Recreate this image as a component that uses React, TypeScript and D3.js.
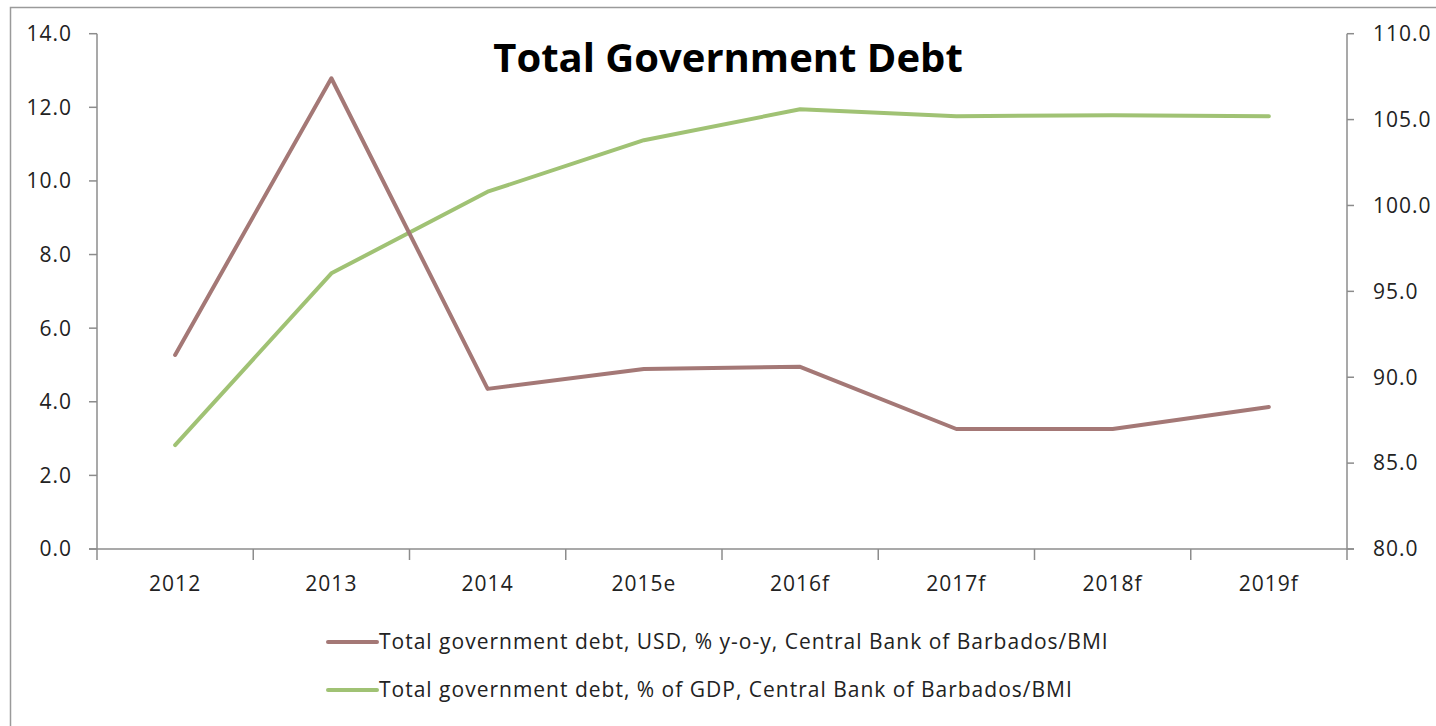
import React from "react";
import * as d3 from "d3";

const categories = ["2012", "2013", "2014", "2015e", "2016f", "2017f", "2018f", "2019f"];
const debtYoY = [5.27, 12.79, 4.35, 4.89, 4.95, 3.26, 3.26, 3.86];
const debtGDP = [86.05, 96.05, 100.8, 103.8, 105.6, 105.2, 105.25, 105.2];
const leftTicks = [0, 2, 4, 6, 8, 10, 12, 14];
const rightTicks = [80, 85, 90, 95, 100, 105, 110];
const seriesNames = [
  "Total government debt, USD, % y-o-y, Central Bank of Barbados/BMI",
  "Total government debt, % of GDP, Central Bank of Barbados/BMI",
];
const title = "Total Government Debt";

const W = 1436;
const H = 726;
const plot = { left: 97, right: 1347, top: 33.7, bottom: 549 };
const brown = "#A47876";
const green = "#A0C274";
const axisColor = "#8C8C8C";
const font = "'Open Sans', 'DejaVu Sans', sans-serif";
const labelSize = 21;
const labelSpacing = 1;

export default function App() {
  const x = d3.scaleBand<string>().domain(categories).range([plot.left, plot.right]);
  const yL = d3.scaleLinear().domain([0, 14]).range([plot.bottom, plot.top]);
  const yR = d3.scaleLinear().domain([80, 110]).range([plot.bottom, plot.top]);
  const cx = (c: string) => (x(c) as number) + x.bandwidth() / 2;

  const lineL = d3
    .line<number>()
    .x((_, i) => cx(categories[i]))
    .y((d) => yL(d));
  const lineR = d3
    .line<number>()
    .x((_, i) => cx(categories[i]))
    .y((d) => yR(d));

  const boundaries = categories.map((c) => x(c) as number).concat([plot.right]);

  return (
    <svg
      width={W}
      height={H}
      style={{ position: "absolute", left: 0, top: 0, background: "#fff" }}
    >
      <rect x={0} y={0} width={W} height={H} fill="#fff" />
      <path d={`M10.5,${H} V7.5 H${W}`} fill="none" stroke="#9A9A9A" strokeWidth={1.5} />

      <text
        x={728}
        y={72}
        textAnchor="middle"
        fontFamily={font}
        fontWeight="bold"
        fontSize={40}
        fill="#000"
      >
        {title}
      </text>

      <line x1={plot.left} x2={plot.left} y1={plot.top} y2={plot.bottom} stroke={axisColor} strokeWidth={1.5} />
      {leftTicks.map((t) => (
        <g key={"l" + t}>
          <line x1={plot.left - 8} x2={plot.left} y1={yL(t)} y2={yL(t)} stroke={axisColor} strokeWidth={1.5} />
          <text
            x={72}
            y={yL(t)}
            dy="0.35em"
            textAnchor="end"
            fontFamily={font}
            fontSize={labelSize}
            letterSpacing={labelSpacing}
            fill="#222"
          >
            {t.toFixed(1)}
          </text>
        </g>
      ))}

      <line x1={plot.right} x2={plot.right} y1={plot.top} y2={plot.bottom} stroke={axisColor} strokeWidth={1.5} />
      {rightTicks.map((t) => (
        <g key={"r" + t}>
          <line x1={plot.right} x2={plot.right + 7} y1={yR(t)} y2={yR(t)} stroke={axisColor} strokeWidth={1.5} />
          <text
            x={1373}
            y={yR(t)}
            dy="0.35em"
            textAnchor="start"
            fontFamily={font}
            fontSize={labelSize}
            letterSpacing={labelSpacing}
            fill="#222"
          >
            {t.toFixed(1)}
          </text>
        </g>
      ))}

      <line x1={plot.left - 8} x2={plot.right + 7} y1={plot.bottom} y2={plot.bottom} stroke={axisColor} strokeWidth={1.5} />
      {boundaries.map((b, i) => (
        <line key={"b" + i} x1={b} x2={b} y1={plot.bottom} y2={plot.bottom + 11} stroke={axisColor} strokeWidth={1.5} />
      ))}
      {categories.map((c) => (
        <text
          key={"c" + c}
          x={cx(c)}
          y={591}
          textAnchor="middle"
          fontFamily={font}
          fontSize={labelSize}
          letterSpacing={labelSpacing}
          fill="#222"
        >
          {c}
        </text>
      ))}

      <path d={lineR(debtGDP) as string} fill="none" stroke={green} strokeWidth={4} strokeLinejoin="round" strokeLinecap="round" />
      <path d={lineL(debtYoY) as string} fill="none" stroke={brown} strokeWidth={4} strokeLinejoin="round" strokeLinecap="round" />

      {seriesNames.map((n, i) => {
        const y = 642 + i * 48;
        return (
          <g key={"lg" + i}>
            <line x1={328} x2={377} y1={y} y2={y} stroke={i === 0 ? brown : green} strokeWidth={4} strokeLinecap="round" />
            <text
              x={379}
              y={y}
              dy="0.35em"
              fontFamily={font}
              fontSize={labelSize}
              letterSpacing={labelSpacing}
              fill="#222"
            >
              {n}
            </text>
          </g>
        );
      })}
    </svg>
  );
}
